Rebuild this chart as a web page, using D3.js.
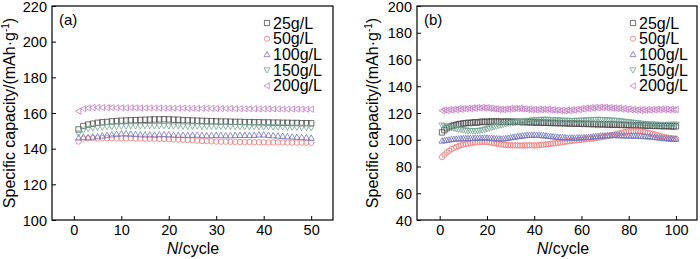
<!DOCTYPE html>
<html>
<head>
<meta charset="utf-8">
<script src="https://cdnjs.cloudflare.com/ajax/libs/d3/7.8.5/d3.min.js"></script>
<style>
  body { margin: 0; background: #fff; }
  svg { display: block; font-family: Arial, "Liberation Sans", sans-serif; }
</style>
</head>
<body>
<svg id="chart" width="700" height="259"></svg>
<script>
// cycling stability, two panels

const seriesNames = ["25g/L", "50g/L", "100g/L", "150g/L", "200g/L"];
const seriesColors = ["#4a4a4a", "#f07a7a", "#7474bc", "#74a494", "#c47cc4"];
const seriesShapes = ["square", "circle", "triUp", "triDown", "triLeft"];

// panel (a): cycles 1..50
const cyclesA = d3.range(1, 51);
const a25 = [150.8, 152.7, 153.5, 154.0, 154.5, 154.8, 155.0, 155.3, 155.5, 155.7,
  155.8, 155.9, 156.0, 156.1, 156.2, 156.3, 156.4, 156.4, 156.5, 156.4,
  156.3, 156.2, 156.0, 155.9, 155.8, 155.7, 155.6, 155.5, 155.4, 155.3,
  155.2, 155.2, 155.1, 155.0, 155.0, 154.9, 154.9, 154.8, 154.8, 154.7,
  154.7, 154.6, 154.6, 154.5, 154.5, 154.4, 154.4, 154.3, 154.3, 154.2];
const a50 = [144.0, 145.6, 145.8, 145.9, 145.8, 145.9, 145.8, 145.9, 145.8, 145.8,
  145.7, 145.8, 145.7, 145.7, 145.6, 145.6, 145.5, 145.5, 145.4, 145.3,
  145.2, 145.1, 145.0, 144.9, 144.7, 144.5, 144.3, 144.2, 144.1, 144.0,
  143.9, 143.9, 143.8, 143.8, 143.7, 143.7, 143.7, 143.6, 143.6, 143.6,
  143.5, 143.5, 143.5, 143.5, 143.4, 143.4, 143.4, 143.4, 143.3, 143.3];
const a100 = [146.1, 146.5, 146.3, 146.6, 146.9, 147.2, 147.5, 147.9, 148.2, 148.4,
  148.5, 148.3, 148.1, 147.9, 147.8, 147.8, 147.7, 147.9, 148.0, 147.9,
  147.7, 147.6, 147.6, 147.5, 147.6, 147.7, 147.5, 147.4, 147.5, 147.6,
  147.5, 147.4, 147.4, 147.5, 147.6, 147.6, 147.5, 147.6, 147.8, 147.8,
  147.6, 147.4, 147.2, 147.0, 146.8, 146.7, 146.5, 146.4, 146.2, 146.0];
const a150 = [148.6, 150.3, 151.2, 151.6, 151.9, 152.1, 152.3, 152.4, 152.5, 152.6,
  152.6, 152.7, 152.7, 152.7, 152.8, 152.8, 152.8, 152.8, 152.8, 152.7,
  152.7, 152.7, 152.6, 152.6, 152.6, 152.6, 152.5, 152.5, 152.5, 152.5,
  152.4, 152.4, 152.4, 152.4, 152.4, 152.3, 152.3, 152.3, 152.3, 152.2,
  152.2, 152.2, 152.1, 152.1, 152.0, 152.0, 151.9, 151.9, 151.8, 151.7];
const a200 = [161.0, 162.4, 162.8, 163.0, 163.1, 163.1, 163.0, 163.0, 162.9, 162.9,
  162.9, 162.9, 162.9, 162.8, 162.8, 162.8, 162.8, 162.8, 162.7, 162.7,
  162.7, 162.7, 162.7, 162.6, 162.6, 162.6, 162.6, 162.6, 162.5, 162.5,
  162.5, 162.5, 162.5, 162.4, 162.4, 162.4, 162.4, 162.4, 162.3, 162.3,
  162.3, 162.3, 162.3, 162.2, 162.2, 162.2, 162.2, 162.2, 162.1, 162.1];

// panel (b): cycles 1..100
const cyclesB = d3.range(1, 101);
const b25 = [105.5, 107.2, 108.6, 109.5, 110.3, 110.8, 111.2, 111.6, 111.9, 112.2,
  112.4, 112.7, 112.5, 112.9, 113.1, 112.8, 113.3, 113.5, 113.2, 113.6,
  113.4, 113.7, 113.5, 113.8, 113.4, 113.6, 113.3, 113.7, 113.5, 113.4,
  113.6, 113.2, 113.5, 113.3, 113.1, 113.4, 113.0, 113.2, 112.9, 113.1,
  112.8, 113.0, 112.7, 112.9, 112.6, 112.8, 112.5, 112.7, 112.4, 112.6,
  112.3, 112.5, 112.2, 112.4, 112.1, 112.3, 112.0, 112.2, 111.9, 112.1,
  111.8, 112.0, 111.7, 111.9, 111.6, 111.8, 111.5, 111.7, 111.4, 111.6,
  111.3, 111.5, 111.2, 111.4, 111.1, 111.3, 111.0, 111.2, 110.9, 111.1,
  110.8, 111.0, 110.7, 110.9, 110.6, 110.8, 110.5, 110.7, 110.4, 110.6,
  110.3, 110.5, 110.2, 110.4, 110.1, 110.3, 110.0, 110.2, 109.9, 110.1];
const b50 = [87.0, 88.8, 90.5, 91.8, 93.0, 93.9, 94.6, 95.3, 95.9, 96.4,
  96.8, 97.1, 97.4, 97.7, 98.0, 98.2, 98.3, 98.4, 98.3, 98.2,
  98.0, 97.7, 97.4, 97.1, 96.8, 96.5, 96.3, 96.1, 96.0, 95.9,
  95.8, 95.8, 95.7, 95.7, 95.7, 95.8, 95.8, 95.9, 95.8, 95.7,
  95.8, 96.0, 96.2, 96.3, 96.5, 96.7, 96.9, 97.2, 97.4, 97.7,
  97.9, 98.2, 98.4, 98.7, 98.9, 99.2, 99.4, 99.6, 99.8, 100.0,
  100.2, 100.4, 100.6, 100.8, 101.0, 101.3, 101.5, 101.8, 102.1, 102.4,
  102.8, 103.2, 103.6, 104.0, 104.4, 104.8, 105.2, 105.6, 105.9, 106.1,
  106.3, 106.4, 106.4, 106.3, 106.2, 106.0, 105.7, 105.3, 104.9, 104.4,
  103.9, 103.4, 102.9, 102.5, 102.1, 101.7, 101.4, 101.1, 100.9, 100.8];
const b100 = [99.2, 99.5, 99.8, 100.0, 100.3, 100.5, 100.6, 100.8, 100.9, 101.0,
  101.1, 101.0, 101.2, 101.1, 101.3, 101.2, 101.4, 101.3, 101.5, 101.4,
  101.3, 101.2, 101.0, 100.9, 100.8, 100.7, 100.8, 101.0, 101.3, 101.6,
  101.9, 102.2, 102.5, 102.8, 103.0, 103.2, 103.4, 103.5, 103.6, 103.6,
  103.5, 103.4, 103.3, 103.2, 103.0, 102.8, 102.6, 102.4, 102.2, 102.0,
  101.8, 101.7, 101.6, 101.5, 101.5, 101.4, 101.4, 101.5, 101.5, 101.6,
  101.7, 101.8, 101.9, 102.1, 102.3, 102.5, 102.7, 102.9, 103.0, 103.1,
  103.2, 103.2, 103.3, 103.3, 103.3, 103.2, 103.2, 103.1, 103.1, 103.0,
  103.0, 102.9, 102.9, 102.8, 102.7, 102.6, 102.5, 102.4, 102.3, 102.1,
  101.9, 101.7, 101.5, 101.3, 101.1, 100.9, 100.8, 100.7, 100.6, 100.6];
const b150 = [110.8, 110.2, 109.8, 109.3, 108.9, 108.5, 108.1, 107.8, 107.5, 107.2,
  107.0, 106.8, 106.7, 106.6, 106.6, 106.7, 106.9, 107.2, 107.6, 108.1,
  108.6, 109.1, 109.6, 110.1, 110.6, 111.0, 111.4, 111.8, 112.1, 112.4,
  112.7, 113.0, 113.2, 113.5, 113.7, 113.9, 114.1, 114.3, 114.5, 114.6,
  114.8, 114.9, 115.0, 115.1, 115.1, 115.0, 114.9, 114.8, 114.7, 114.6,
  114.5, 114.4, 114.3, 114.3, 114.2, 114.2, 114.2, 114.3, 114.3, 114.4,
  114.5, 114.6, 114.7, 114.8, 114.9, 115.0, 115.0, 115.0, 114.9, 114.8,
  114.7, 114.6, 114.5, 114.4, 114.2, 114.0, 113.8, 113.6, 113.4, 113.2,
  113.0, 112.8, 112.6, 112.4, 112.2, 112.0, 111.8, 111.7, 111.6, 111.5,
  111.4, 111.3, 111.3, 111.2, 111.2, 111.2, 111.3, 111.3, 111.4, 111.4];
const b200 = [121.8, 122.3, 121.9, 122.6, 122.2, 122.9, 122.5, 123.2, 122.8, 123.4,
  123.0, 123.6, 123.2, 123.9, 123.5, 124.1, 123.7, 124.2, 123.8, 124.0,
  123.5, 123.6, 123.0, 123.1, 122.6, 122.8, 122.5, 123.0, 122.8, 123.4,
  123.1, 123.6, 123.2, 123.5, 123.0, 123.2, 122.7, 122.9, 122.4, 122.7,
  122.3, 122.8, 122.4, 122.9, 122.5, 122.8, 122.3, 122.5, 121.9, 122.2,
  121.7, 122.1, 121.6, 122.2, 121.8, 122.5, 122.1, 122.9, 122.5, 123.3,
  122.9, 123.7, 123.3, 124.1, 123.6, 124.3, 123.8, 124.4, 123.9, 124.3,
  123.8, 124.1, 123.5, 123.9, 123.2, 123.7, 122.9, 123.4, 122.6, 123.1,
  122.3, 122.8, 122.0, 122.6, 121.8, 122.5, 121.9, 122.6, 122.1, 122.8,
  122.3, 122.9, 122.4, 123.0, 122.5, 122.9, 122.4, 122.8, 122.3, 122.6];

const ticksAx = [0, 10, 20, 30, 40, 50];
const ticksAy = [100, 120, 140, 160, 180, 200, 220];
const ticksBx = [0, 20, 40, 60, 80, 100];
const ticksBy = [40, 60, 80, 100, 120, 140, 160, 180, 200];

const svg = d3.select("#chart");

// marker path, centred on 0,0
function markerPath(shape, r) {
  if (shape === "square") return `M${-r},${-r}H${r}V${r}H${-r}Z`;
  if (shape === "circle") return `M${r},0A${r},${r} 0 1,1 ${-r},0A${r},${r} 0 1,1 ${r},0Z`;
  const h = r * 1.15;
  if (shape === "triUp") return `M0,${-h}L${h},${h * 0.75}L${-h},${h * 0.75}Z`;
  if (shape === "triDown") return `M0,${h}L${h},${-h * 0.75}L${-h},${-h * 0.75}Z`;
  return `M${-h},0L${h * 0.75},${-h}L${h * 0.75},${h}Z`;
}

function drawPanel(p) {
  const x = d3.scaleLinear().domain(p.xDomain).range(p.xRange);
  const y = d3.scaleLinear().domain(p.yDomain).range([220, 6]);
  const g = svg.append("g");

  const xAxis = g.append("g")
    .attr("transform", "translate(0,220)")
    .call(d3.axisBottom(x).tickValues(p.xTicks).tickSizeInner(-4).tickSizeOuter(0).tickPadding(5));
  const yAxis = g.append("g")
    .attr("transform", `translate(${p.xRange[0]},0)`)
    .call(d3.axisLeft(y).tickValues(p.yTicks).tickSizeInner(-4).tickSizeOuter(0).tickPadding(5));
  [xAxis, yAxis].forEach(a => {
    a.select(".domain").remove();
    a.selectAll("text").attr("font-size", 14.5).attr("fill", "#000").attr("font-family", "Arial, 'Liberation Sans', sans-serif");
    a.selectAll("line").attr("stroke", "#000");
  });
  yAxis.selectAll("text").attr("dy", "0.36em");

  // series markers
  p.series.forEach((vals, i) => {
    g.append("g").selectAll("path")
      .data(vals)
      .join("path")
      .attr("d", markerPath(seriesShapes[i], 2.7))
      .attr("transform", (d, j) => `translate(${x(p.cycles[j])},${y(d)})`)
      .attr("fill", "none")
      .attr("stroke", seriesColors[i])
      .attr("stroke-width", 0.8);
  });

  // frame
  g.append("rect")
    .attr("x", p.xRange[0]).attr("y", 6)
    .attr("width", p.xRange[1] - p.xRange[0]).attr("height", 214)
    .attr("fill", "none").attr("stroke", "#000").attr("stroke-width", 1.2);

  g.append("text")
    .attr("x", p.xRange[0] + 7).attr("y", 25)
    .attr("font-size", 15).text(p.tag);

  // legend
  seriesNames.forEach((name, i) => {
    const ly = 23 + i * 15.7;
    g.append("path")
      .attr("d", markerPath(seriesShapes[i], 2.6))
      .attr("transform", `translate(${p.legendX},${ly})`)
      .attr("fill", "none").attr("stroke", seriesColors[i]).attr("stroke-width", 0.8);
    g.append("text")
      .attr("x", p.legendX + 6).attr("y", ly + 5.5)
      .attr("font-size", 16).text(name);
  });

  // axis titles
  const yt = g.append("text")
    .attr("transform", `translate(${p.yTitleX},113) rotate(-90)`)
    .attr("text-anchor", "middle").attr("font-size", 16);
  yt.append("tspan").text("Specific capacity/(mAh·g");
  yt.append("tspan").attr("dy", -6).attr("font-size", 10).text("-1");
  yt.append("tspan").attr("dy", 6).text(")");

  const xt = g.append("text")
    .attr("x", p.xTitleX).attr("y", 254)
    .attr("text-anchor", "middle").attr("font-size", 16);
  xt.append("tspan").attr("font-style", "italic").text("N");
  xt.append("tspan").text("/cycle");
}

drawPanel({
  tag: "(a)", cycles: cyclesA, series: [a25, a50, a100, a150, a200],
  xDomain: [-4.6, 54.6], xRange: [52, 333], yDomain: [100, 220],
  xTicks: ticksAx, yTicks: ticksAy, legendX: 267, yTitleX: 15, xTitleX: 193
});
drawPanel({
  tag: "(b)", cycles: cyclesB, series: [b25, b50, b100, b150, b200],
  xDomain: [-9.6, 108.9], xRange: [417, 697], yDomain: [40, 200],
  xTicks: ticksBx, yTicks: ticksBy, legendX: 633, yTitleX: 378, xTitleX: 563
});
</script>
</body>
</html>
